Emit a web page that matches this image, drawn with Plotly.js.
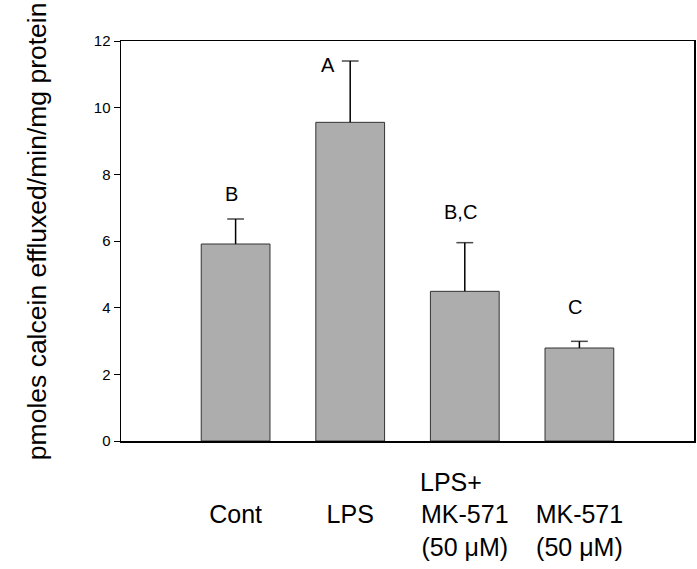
<!DOCTYPE html>
<html>
<head>
<meta charset="utf-8">
<script src="https://cdn.plot.ly/plotly-3.0.1.min.js"></script>
<style>
  body { margin: 0; background: #fff; }
  #chart { width: 697px; height: 569px; }
</style>
</head>
<body>
<div id="chart"></div>
<script>
// group labels (line breaks keep the stacked layout of the original)
const groups = ['Cont', 'LPS', 'LPS+MK-571', 'MK-571'];
const groupText = [
    '<br>Cont',
    '<br>LPS',
    'LPS+\u00a0\u00a0\u00a0\u00a0<br>MK-571<br>(50 \u03bcM)',
    '<br>MK-571<br>(50 \u03bcM)'
];

// efflux, pmol/min/mg protein
const meanValues = [5.91, 9.56, 4.49, 2.79];
const seValues = [0.75, 1.84, 1.46, 0.20];

// significance letters and the height they sit at
const letters = ['B', 'A', 'B,C', 'C'];
const letterY = [7.41, 11.27, 6.87, 4.03];

const FONT = 'Arial, "Liberation Sans", sans-serif';
const xPos = groups.map((g, i) => i);

const bars = {
    type: 'bar',
    x: xPos,
    y: meanValues,
    width: 0.6,
    marker: {
        color: '#adadad',
        line: { color: '#333333', width: 1 }
    },
    hoverinfo: 'none'
};

// upper-only error bars: a stem from the bar top plus a cap at the end
const errX = [], errY = [], capSize = [];
xPos.forEach((x, i) => {
    errX.push(x, x, null);
    errY.push(meanValues[i], meanValues[i] + seValues[i], null);
    capSize.push(0, 12, 0);
});

const errorBars = {
    type: 'scatter',
    mode: 'lines+markers',
    x: errX,
    y: errY,
    line: { color: '#000', width: 1.5 },
    marker: {
        symbol: 'line-ew',
        size: capSize,
        line: { color: '#000', width: 1.5 }
    },
    connectgaps: false,
    hoverinfo: 'none'
};

const letterNotes = letters.map((txt, i) => ({
    x: i,
    y: letterY[i],
    xref: 'x',
    yref: 'y',
    text: txt,
    showarrow: false,
    xshift: txt === 'A' ? -22 : -4,
    font: { family: FONT, size: 20, color: '#000' }
}));

const layout = {
    width: 697,
    height: 569,
    margin: { l: 121, r: 3, t: 41, b: 128 },
    paper_bgcolor: '#ffffff',
    plot_bgcolor: '#ffffff',
    showlegend: false,
    xaxis: {
        range: [-1, 4],
        tickmode: 'array',
        tickvals: xPos,
        ticktext: groupText,
        ticks: '',
        showgrid: false,
        zeroline: false,
        showline: true,
        mirror: true,
        linecolor: '#000',
        linewidth: 1.5,
        ticklabelstandoff: 18,
        tickfont: { family: FONT, size: 25, color: '#000' }
    },
    yaxis: {
        range: [0, 12],
        tickmode: 'linear',
        tick0: 0,
        dtick: 2,
        ticks: 'outside',
        ticklen: 6,
        tickwidth: 1,
        tickcolor: '#000',
        showgrid: false,
        zeroline: false,
        showline: true,
        mirror: true,
        linecolor: '#000',
        linewidth: 1.5,
        tickfont: { family: FONT, size: 15, color: '#000' }
    },
    annotations: letterNotes.concat([{
        xref: 'paper',
        yref: 'paper',
        x: -0.176,
        y: 0.525,
        text: 'pmoles calcein effluxed/min/mg protein',
        textangle: -90,
        showarrow: false,
        font: { family: FONT, size: 26.5, color: '#000' }
    }])
};

Plotly.newPlot('chart', [bars, errorBars], layout, { displayModeBar: false, staticPlot: true });
</script>
</body>
</html>
